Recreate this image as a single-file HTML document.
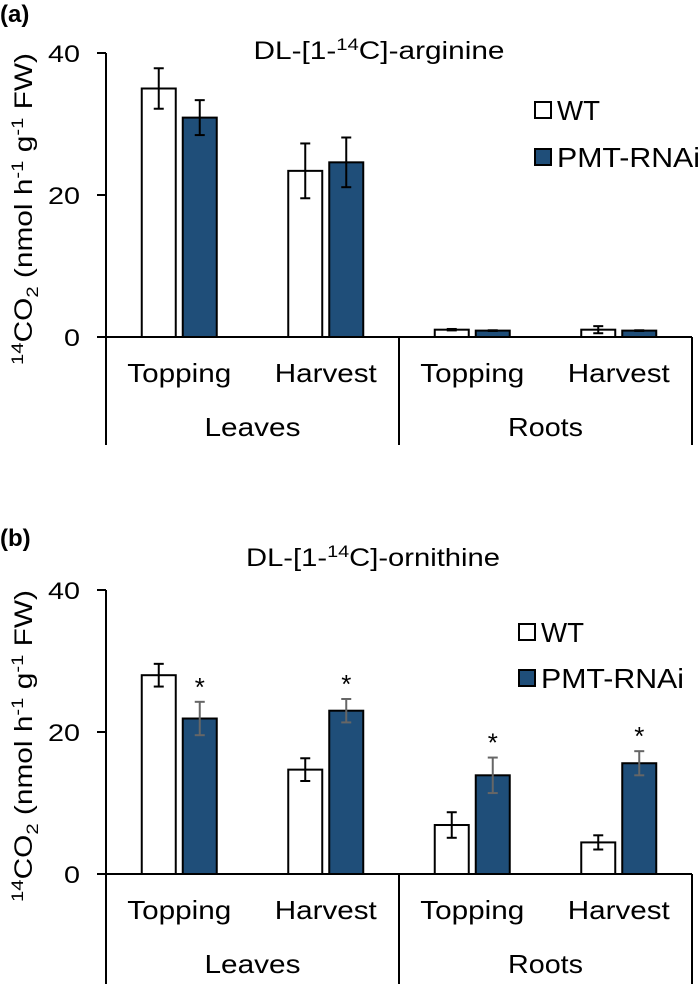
<!DOCTYPE html>
<html><head><meta charset="utf-8"><style>
html,body{margin:0;padding:0;background:#fff;}
svg{display:block;font-family:"Liberation Sans",Arial,sans-serif;}
</style></head><body>
<svg id="fig" width="700" height="984" viewBox="0 0 700 984"></svg>
<script>
const categories = ["Topping","Harvest","Topping","Harvest"];
const groups = ["Leaves","Roots"];
const yTicks = [0,20,40];
const argWT = [35.0, 23.4, 1.03, 1.03];
const argWTerr = [2.85, 3.86, 0.1, 0.5];
const argPMT = [30.9, 24.6, 0.9, 0.9];
const argPMTerr = [2.46, 3.5, 0.05, 0.05];
const ornWT = [28.0, 14.7, 6.9, 4.45];
const ornWTerr = [1.6, 1.6, 1.8, 1.0];
const ornPMT = [21.9, 23.0, 13.9, 15.6];
const ornPMTerr = [2.35, 1.65, 2.5, 1.7];
const ornSig = [true, true, true, true];

const NS = "http://www.w3.org/2000/svg";
const svg = document.getElementById("fig");
function mk(tag, attrs, parent, text){
  const e = document.createElementNS(NS, tag);
  for (const k in attrs) e.setAttribute(k, attrs[k]);
  if (text !== undefined) e.textContent = text;
  (parent||svg).appendChild(e);
  return e;
}
const X0 = 106, X1 = 692, SEP = 399;
function xCenter(i){ return X0 + (X1 - X0) / 4 * (i + 0.5); }

function panel(opt){
  const g = mk("g", {});
  
  
  const y0 = opt.y0, yTop = opt.y40;
  const yS = v => y0 - (v / 40) * (y0 - yTop);
  const pl = mk("text", {x:0, y:opt.labelY, "font-size":24, "font-weight":"bold"}, g, opt.label);
  
  
  const t = mk("text", {x:opt.titleX, y:opt.titleY, "font-size":25, "text-anchor":"middle", textLength:opt.titleW, lengthAdjust:"spacingAndGlyphs"}, g);
  
  
  mk("tspan", {}, t, "DL-[1-");
  mk("tspan", {"font-size":17, dy:-9}, t, "14");
  mk("tspan", {dy:9}, t, "C]-" + opt.sub);
  const ax = mk("line", {x1:X0, y1:yTop, x2:X0, y2:opt.yEnd, stroke:"#000","stroke-width":2}, g);
  
  
  yTicks.forEach(v=>{
    const y = yS(v);
    mk("line", {x1:97, y1:y, x2:X0, y2:y, stroke:"#000","stroke-width":2}, g);
    const tl = mk("text", {x:80, y:y+9, "font-size":24, "text-anchor":"end", textLength: String(v).length*16, lengthAdjust:"spacingAndGlyphs"}, g, String(v));
    
    
  });
  const yl = mk("text", {transform:`translate(32,${(yTop+y0)/2+14}) rotate(-90)`, "font-size":25, "text-anchor":"middle", textLength:312, lengthAdjust:"spacingAndGlyphs"}, g);
  
  
  mk("tspan", {"font-size":17, dy:-9}, yl, "14");
  mk("tspan", {dy:9}, yl, "CO");
  mk("tspan", {"font-size":17, dy:6}, yl, "2");
  mk("tspan", {dy:-6}, yl, " (nmol h");
  mk("tspan", {"font-size":17, dy:-9}, yl, "-1");
  mk("tspan", {dy:9}, yl, " g");
  mk("tspan", {"font-size":17, dy:-9}, yl, "-1");
  mk("tspan", {dy:9}, yl, " FW)");
  for (let i=0;i<4;i++){
    const c = xCenter(i);
    const series = [
      {v:opt.wt[i], e:opt.wtErr[i], fill:"#fff", off:-20.5, ec:"#000", n:"wt"},
      {v:opt.pmt[i], e:opt.pmtErr[i], fill:"#1F4E79", off:20.5, ec:opt.pmtErrColor, n:"pmt"}
    ];
    series.forEach(s=>{
      const bx = c + s.off - 17;
      const r = mk("rect", {x:bx, y:yS(s.v), width:34, height:y0-yS(s.v), fill:s.fill, stroke:"#000","stroke-width":2}, g);
      
      
      const ex = c + s.off;
      const eg = mk("g", {stroke:s.ec, "stroke-width":2}, g);
      
      
      mk("line", {x1:ex, y1:yS(s.v+s.e), x2:ex, y2:yS(s.v-s.e)}, eg);
      mk("line", {x1:ex-5, y1:yS(s.v+s.e), x2:ex+5, y2:yS(s.v+s.e)}, eg);
      mk("line", {x1:ex-5, y1:yS(s.v-s.e), x2:ex+5, y2:yS(s.v-s.e)}, eg);
    });
    if (opt.sig && opt.sig[i]){
      const ax2 = c + 20.5;
      const st = mk("text", {x:ax2, y:yS(opt.pmt[i]+opt.pmtErr[i]) - 6, "font-size":26, "text-anchor":"middle"}, g, "*");
      
      
    }
    const cl = mk("text", {x:c, y:y0+45, "font-size":26, "text-anchor":"middle", textLength:categories[i]==="Topping"?104:102, lengthAdjust:"spacingAndGlyphs"}, g, categories[i]);
    
    
  }
  const xa = mk("line", {x1:X0, y1:y0, x2:X1, y2:y0, stroke:"#000","stroke-width":2}, g);
  
  
  mk("line", {x1:SEP, y1:y0, x2:SEP, y2:opt.yEnd, stroke:"#000","stroke-width":2}, g);
  mk("line", {x1:X1, y1:y0, x2:X1, y2:opt.yEnd, stroke:"#000","stroke-width":2}, g);
  groups.forEach((gn,j)=>{
    const gx = j===0 ? (X0+SEP)/2 : (SEP+X1)/2;
    const gl = mk("text", {x:gx, y:y0+99, "font-size":26, "text-anchor":"middle", textLength:gn==="Leaves"?96:75, lengthAdjust:"spacingAndGlyphs"}, g, gn);
    
    
  });
  const lg = mk("g", {}, g);
  
  
  const lx = opt.legX;
  [["WT","#fff",opt.legY1,43],["PMT-RNAi","#1F4E79",opt.legY2,143]].forEach(([n,f,y,w])=>{
    const le = mk("g", {}, lg);
    
    
    mk("rect", {x:lx, y:y-8, width:16, height:16, fill:f, stroke:"#000","stroke-width":2}, le);
    mk("text", {x:lx+22, y:y+10, "font-size":28, textLength:w, lengthAdjust:"spacingAndGlyphs"}, le, n);
  });
}
panel({name:"panel-a-arginine", label:"(a)", labelY:22, sub:"arginine", titleX:379, titleY:59, titleW:251,
  y0:337, y40:53, yEnd:445, wt:argWT, wtErr:argWTerr, pmt:argPMT, pmtErr:argPMTerr,
  pmtErrColor:"#000", sig:null, legX:535, legY1:110, legY2:157});
panel({name:"panel-b-ornithine", label:"(b)", labelY:546, sub:"ornithine", titleX:373, titleY:566, titleW:254,
  y0:874, y40:590, yEnd:984, wt:ornWT, wtErr:ornWTerr, pmt:ornPMT, pmtErr:ornPMTerr,
  pmtErrColor:"#666", sig:ornSig, legX:519, legY1:632, legY2:678});
</script>
</body></html>
